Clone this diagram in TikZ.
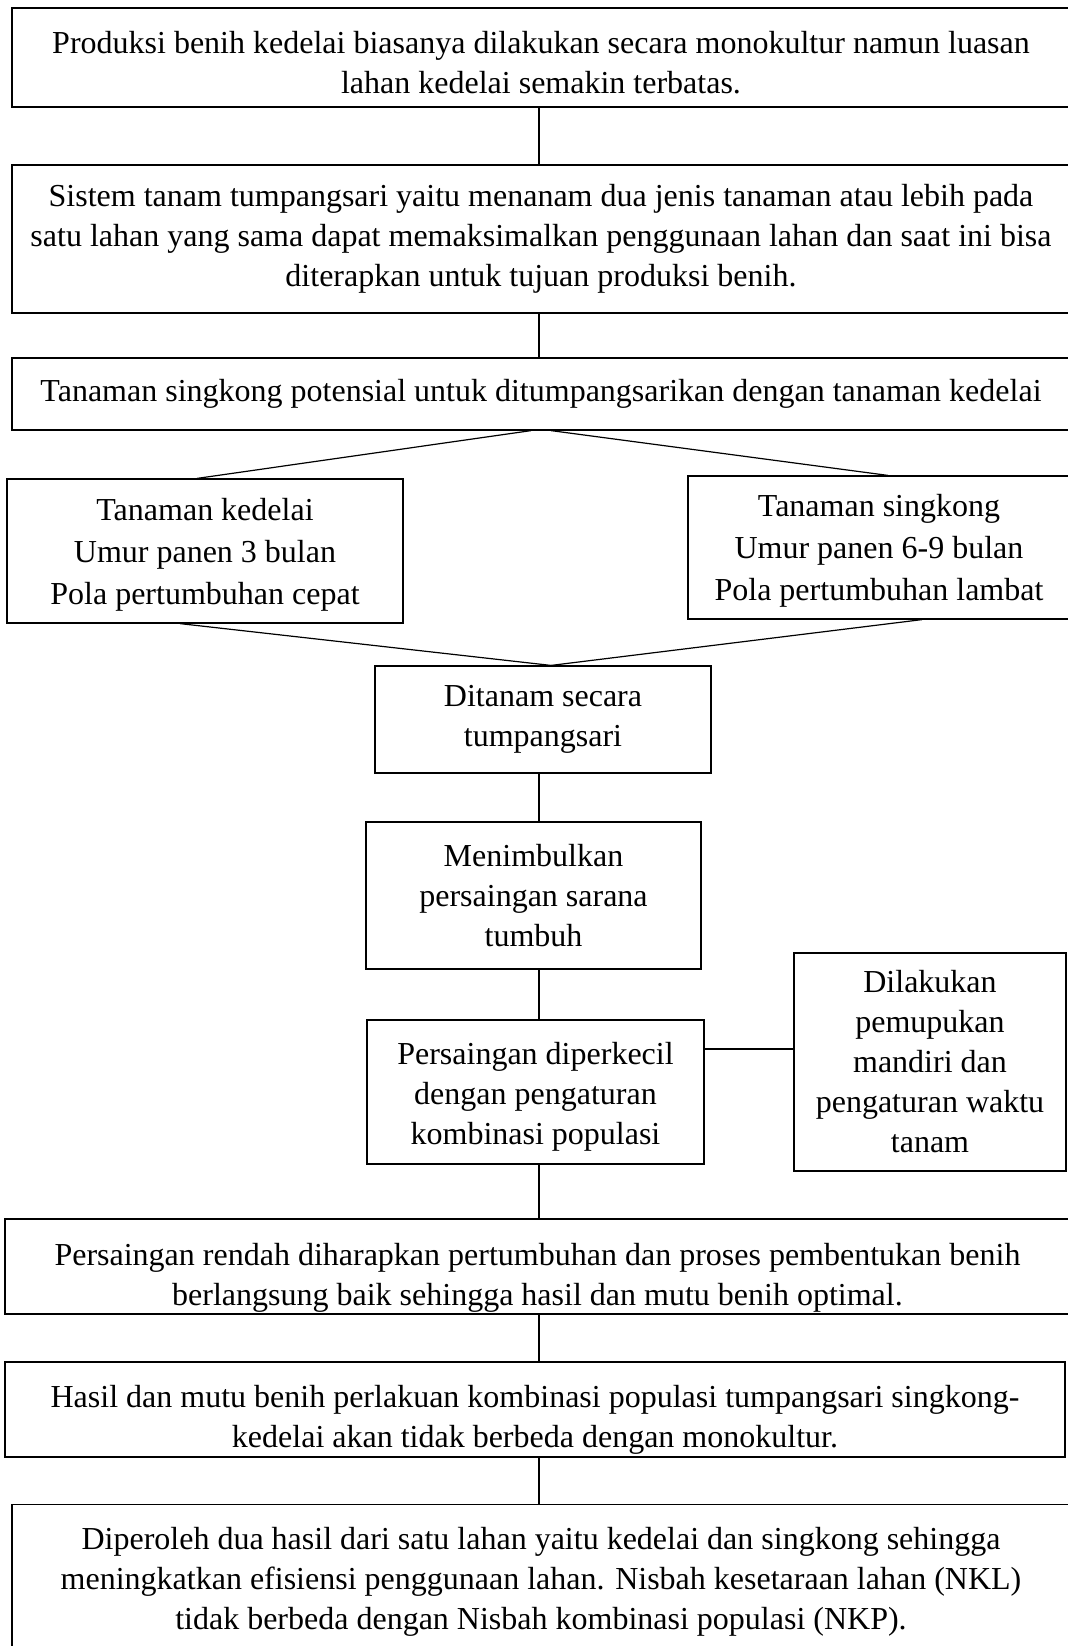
\documentclass[tikz,border=0pt]{standalone}
\usepackage{fontspec}
\setmainfont{Liberation Serif}
\usepackage{tikz}
\usetikzlibrary{positioning,calc}
\newcommand{\sangga}[1]{\rule{0pt}{#1}}

\begin{document}
\begin{tikzpicture}[x=0.5pt,y=-0.5pt,
    kotak/.style={draw, line width=0.6pt, rectangle, inner sep=0pt,
      align=center, font=\fontsize{16}{20}\selectfont},
    renggang/.style={font=\fontsize{16}{21}\selectfont},
    garis/.style={line width=0.6pt}]
  % Bidang gambar
  \useasboundingbox (0,0) rectangle (1067,1646);
  \coordinate (sumbu) at (539,0);
  \coordinate (samping) at (0,1049);

  % Kotak utama
  \node[kotak, minimum width=529pt, minimum height=49.5pt] (produksi) at (541,57.5)
    {\sangga{16pt}Produksi benih kedelai biasanya dilakukan secara monokultur namun luasan\\
     lahan kedelai semakin terbatas.};
  \node[kotak, minimum width=529pt, minimum height=74pt] (sistem) at (541,239)
    {Sistem tanam tumpangsari yaitu menanam dua jenis tanaman atau lebih pada\\
     satu lahan yang sama dapat memaksimalkan penggunaan lahan dan saat ini bisa\\
     diterapkan untuk tujuan produksi benih.};
  \node[kotak, minimum width=529pt, minimum height=36pt] (potensi) at (541,394)
    {Tanaman singkong potensial untuk ditumpangsarikan dengan tanaman kedelai};

  % Dua tanaman
  \node[kotak, renggang, minimum width=198pt, minimum height=72pt] (kedelai) at (205,551)
    {\sangga{15pt}Tanaman kedelai\\ Umur panen 3 bulan\\ Pola pertumbuhan cepat};
  \node[kotak, renggang, minimum width=191pt, minimum height=71.5pt] (singkong) at (879,547.5)
    {\sangga{14.5pt}Tanaman singkong\\ Umur panen 6-9 bulan\\ Pola pertumbuhan lambat};

  % Alur tengah
  \node[kotak, minimum width=168pt, minimum height=53.5pt] (ditanam) at (543,719.5)
    {Ditanam secara\\ tumpangsari};
  \node[kotak, minimum width=167.5pt, minimum height=73.5pt] (menimbulkan) at (533.5,895.5)
    {Menimbulkan\\ persaingan sarana\\ tumbuh};
  \node[kotak, minimum width=168.5pt, minimum height=72pt] (diperkecil) at (535.5,1092)
    {\sangga{15.5pt}Persaingan diperkecil\\ dengan pengaturan\\ kombinasi populasi};
  \node[kotak, minimum width=136pt, minimum height=109pt] (pemupukan) at (930,1062)
    {Dilakukan\\ pemupukan\\ mandiri dan\\ pengaturan waktu\\ tanam};

  % Kotak bawah
  \node[kotak, minimum width=532.5pt, minimum height=47.5pt] (rendah) at (537.5,1266.5)
    {\sangga{22pt}Persaingan rendah diharapkan pertumbuhan dan proses pembentukan benih\\
     berlangsung baik sehingga hasil dan mutu benih optimal.};
  \node[kotak, minimum width=530pt, minimum height=47.5pt] (hasil) at (535,1409.5)
    {\sangga{21pt}Hasil dan mutu benih perlakuan kombinasi populasi tumpangsari singkong-\\
     kedelai akan tidak berbeda dengan monokultur.};
  \node[kotak, minimum width=529pt, minimum height=77.5pt] (efisiensi) at (541,1582)
    {Diperoleh dua hasil dari satu lahan yaitu kedelai dan singkong sehingga\\
     meningkatkan efisiensi penggunaan lahan. Nisbah kesetaraan lahan (NKL)\\
     tidak berbeda dengan Nisbah kombinasi populasi (NKP).};

  % Penghubung
  \draw[garis] (produksi.south -| sumbu) -- (sistem.north -| sumbu);
  \draw[garis] (sistem.south -| sumbu) -- (potensi.north -| sumbu);
  \draw[garis] ([xshift=-5pt]potensi.south) -- ([xshift=-4pt]kedelai.north);
  \draw[garis] ([xshift=5pt]potensi.south) -- ([xshift=4.5pt]singkong.north);
  \draw[garis] ([xshift=-12.5pt]kedelai.south) -- ([xshift=4pt]ditanam.north);
  \draw[garis] ([xshift=21.5pt]singkong.south) -- ([xshift=4pt]ditanam.north);
  \draw[garis] (ditanam.south -| sumbu) -- (menimbulkan.north -| sumbu);
  \draw[garis] (menimbulkan.south -| sumbu) -- (diperkecil.north -| sumbu);
  \draw[garis] (diperkecil.east |- samping) -- (pemupukan.west |- samping);
  \draw[garis] (diperkecil.south -| sumbu) -- (rendah.north -| sumbu);
  \draw[garis] (rendah.south -| sumbu) -- (hasil.north -| sumbu);
  \draw[garis] (hasil.south -| sumbu) -- (efisiensi.north -| sumbu);
\end{tikzpicture}
\end{document}
